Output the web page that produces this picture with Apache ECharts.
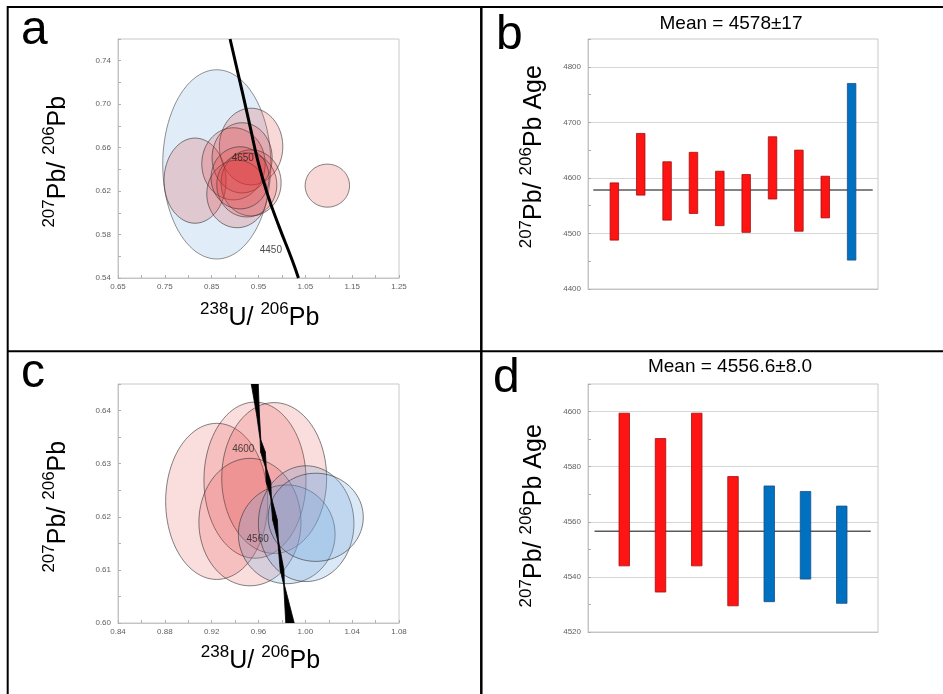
<!DOCTYPE html>
<html><head><meta charset="utf-8">
<script src="https://cdn.jsdelivr.net/npm/echarts@6/dist/echarts.min.js"></script>
<style>html,body{margin:0;padding:0;background:#fff}#c{width:943px;height:694px}</style>
</head><body><div id="c"></div>
<script>
// ---------------- DATA ----------------
// Panel a: error ellipses (centre x, centre y, half-axis x, half-axis y)
const aRedX  = [0.8145, 1.0970, 0.9342, 0.8966, 0.9150, 0.9342, 0.9043, 0.9250, 0.9107];
const aRedY  = [0.6296, 0.6250, 0.6610, 0.6451, 0.6506, 0.6276, 0.6174, 0.6257, 0.6322];
const aRedSx = [0.0662, 0.0474, 0.0677, 0.0677, 0.0641, 0.0641, 0.0647, 0.0641, 0.0620];
const aRedSy = [0.0392, 0.0198, 0.0353, 0.0332, 0.0323, 0.0304, 0.0311, 0.0295, 0.0286];
const aBlueX  = [0.8609];
const aBlueY  = [0.6446];
const aBlueSx = [0.1154];
const aBlueSy = [0.0871];
// Panel a: concordia curve
const concAX = [0.8893, 0.9160, 0.9321, 0.9481, 0.9684, 0.9940, 1.0218, 1.0353];
const concAY = [0.7600, 0.7102, 0.6794, 0.6488, 0.6181, 0.5873, 0.5566, 0.5400];
const aAgeText = ['4650', '4450'];
const aAgeX = [0.9165, 0.9763];
const aAgeY = [0.6502, 0.5652];
const aXLabels = ['0.65','0.75','0.85','0.95','1.05','1.15','1.25'];
const aYLabels = ['0.54','0.58','0.62','0.66','0.70','0.74'];

// Panel b: 207Pb/206Pb ages (low, high) per analysis
const bLow   = [4488, 4569, 4524, 4536, 4514, 4502, 4562, 4504, 4528, 4452];
const bHigh  = [4591, 4680, 4629, 4646, 4612, 4606, 4674, 4650, 4603, 4770];
const bBlue  = [0, 0, 0, 0, 0, 0, 0, 0, 0, 1];
const bMean  = 4578;
const bMeanSpan = [0.2, 10.8];
const bTitle = 'Mean = 4578±17';
const bYLabels = ['4400','4500','4600','4700','4800'];

// Panel c: error ellipses
const cRedX  = [0.9243, 0.9570, 0.9734, 0.9527];
const cRedY  = [0.6229, 0.6269, 0.6273, 0.6190];
const cRedSx = [0.0436, 0.0436, 0.0448, 0.0436];
const cRedSy = [0.0147, 0.0147, 0.0142, 0.0120];
const cBlueX  = [0.9841, 1.0007, 1.0089];
const cBlueY  = [0.6167, 0.6187, 0.6199];
const cBlueSx = [0.0413, 0.0408, 0.0406];
const cBlueSy = [0.0093, 0.0109, 0.0083];
// Panel c: concordia band (centre x, centre y, half-width in x)
const concCX = [0.9568, 0.9596, 0.9617, 0.9638, 0.9664, 0.9685, 0.9707, 0.9741, 0.9767, 0.9801, 0.9818, 0.9869];
const concCY = [0.6450, 0.6392, 0.6345, 0.6322, 0.6292, 0.6266, 0.6237, 0.6194, 0.6156, 0.6100, 0.6072, 0.6000];
const concCW = [0.0030, 0.0012, 0.0003, 0.0020, 0.0003, 0.0020, 0.0003, 0.0020, 0.0003, 0.0016, 0.0003, 0.0036];
const cAgeText = ['4600', '4560'];
const cAgeX = [0.9470, 0.9593];
const cAgeY = [0.6328, 0.6158];
const cXLabels = ['0.84','0.88','0.92','0.96','1.00','1.04','1.08'];
const cYLabels = ['0.600','0.610','0.620','0.630','0.640'];

// Panel d
const dLow   = [4544, 4534.5, 4544, 4529.5, 4531, 4539.2, 4530.4];
const dHigh  = [4599.4, 4590.2, 4599.4, 4576.4, 4573, 4571, 4565.7];
const dBlue  = [0, 0, 0, 0, 1, 1, 1];
const dMean  = 4556.6;
const dMeanSpan = [0.18, 7.8];
const dTitle = 'Mean = 4556.6±8.0';
const dYLabels = ['4520','4540','4560','4580','4600'];

// ---------------- CHART ----------------
const FONT = "'Liberation Sans', Arial, sans-serif";
const chart = echarts.init(document.getElementById('c'), null, {renderer: 'canvas'});

function ellipseSeries(xi, yi, X, Y, SX, SY, fill, stroke) {
  return {
    type: 'custom', xAxisIndex: xi, yAxisIndex: yi, clip: true, silent: true,
    encode: {x: 0, y: 1},
    data: X.map((x, i) => [x, Y[i], SX[i], SY[i]]),
    renderItem: function (params, api) {
      const cx = api.value(0), cy = api.value(1), rx = api.value(2), ry = api.value(3);
      const pts = [];
      for (let k = 0; k < 96; k++) {
        const t = k / 96 * Math.PI * 2;
        pts.push(api.coord([cx + rx * Math.cos(t), cy + ry * Math.sin(t)]));
      }
      return {type: 'polygon', shape: {points: pts}, style: {fill: fill, stroke: stroke, lineWidth: 1}};
    }
  };
}
function barSeries(xi, yi, LO, HI, BL, w) {
  return {
    type: 'custom', xAxisIndex: xi, yAxisIndex: yi, silent: true,
    encode: {x: 0, y: [1, 2]},
    data: LO.map((lo, i) => [i + 1, lo, HI[i], BL[i]]),
    renderItem: function (params, api) {
      const x = api.value(0), lo = api.value(1), hi = api.value(2), blue = api.value(3);
      const p1 = api.coord([x, hi]), p2 = api.coord([x, lo]);
      return {type: 'rect', shape: {x: p1[0] - w / 2, y: p1[1], width: w, height: p2[1] - p1[1]},
        style: {fill: blue ? '#0070c0' : '#ff1414', stroke: blue ? '#1b4f86' : '#a01010', lineWidth: 0.8}};
    }
  };
}
function meanSeries(xi, yi, mean, span) {
  return {type: 'line', xAxisIndex: xi, yAxisIndex: yi, silent: true, symbol: 'none',
    data: [[span[0], mean], [span[1], mean]], lineStyle: {color: '#5a5a5a', width: 1.5}, z: 1};
}
function ageLabels(xi, yi, T, X, Y) {
  return {type: 'scatter', xAxisIndex: xi, yAxisIndex: yi, silent: true, symbolSize: 1,
    itemStyle: {color: 'rgba(0,0,0,0)'}, z: 10,
    data: T.map((t, i) => ({name: t, value: [X[i], Y[i]]})),
    label: {show: true, position: 'inside', formatter: '{b}', fontSize: 10, color: '#222', fontFamily: FONT}};
}
function labelStyle(margin, fmt) {
  return {fontSize: 8, color: '#5f5f5f', fontFamily: FONT, margin: margin, formatter: fmt};
}
function valAxis(gi, min, max, interval, fmt, margin, opts) {
  return Object.assign({
    gridIndex: gi, type: 'value', min: min, max: max, interval: interval,
    axisLine: {show: true, lineStyle: {color: '#c4c4c4', width: 1}},
    axisTick: {show: true, inside: true, length: 3, lineStyle: {color: '#b0b0b0'}},
    axisLabel: labelStyle(margin, fmt),
    splitLine: {show: false}
  }, opts || {});
}
function hiddenX(gi, min, max) {
  return {gridIndex: gi, type: 'value', min: min, max: max,
    axisLine: {show: true, lineStyle: {color: '#c4c4c4'}}, axisTick: {show: false},
    axisLabel: {show: false}, splitLine: {show: false}};
}
const pick = (labels, dec) => v => labels.indexOf(v.toFixed(dec)) >= 0 ? v.toFixed(dec) : '';

const RICH = {
  m: {fontSize: 25, fontFamily: FONT, lineHeight: 34, fill: '#000'},
  s: {fontSize: 17, fontFamily: FONT, verticalAlign: 'top', fill: '#000'}
};
function richText(x, y, txt, rot) {
  return {type: 'text', x: x, y: y, rotation: rot || 0, silent: true,
    style: {text: txt, rich: RICH, align: 'center', verticalAlign: 'middle',
      textAlign: 'center', textVerticalAlign: 'middle', fill: '#000'}};
}
function plainText(x, y, txt, size, align) {
  return {type: 'text', x: x, y: y, silent: true,
    style: {text: txt, fontSize: size, fontFamily: FONT, fill: '#000',
      align: align, verticalAlign: 'middle', textAlign: align, textVerticalAlign: 'middle'}};
}
function hline(x1, y, x2, w) { return {type: 'line', silent: true, shape: {x1: x1, y1: y, x2: x2, y2: y}, style: {stroke: '#000', lineWidth: w}}; }
function vline(x, y1, y2, w) { return {type: 'line', silent: true, shape: {x1: x, y1: y1, x2: x, y2: y2}, style: {stroke: '#000', lineWidth: w}}; }

const gridStyle = {show: true, borderColor: '#c8c8c8', borderWidth: 1, backgroundColor: 'rgba(0,0,0,0)', containLabel: false};
const altSplit = {show: true, lineStyle: {color: ['#d6d6d6', 'rgba(0,0,0,0)'], width: 1}};

const option = {
  animation: false,
  backgroundColor: '#fff',
  grid: [
    Object.assign({left: 118, top: 39, width: 281, height: 239}, gridStyle),
    Object.assign({left: 588, top: 39, width: 290, height: 250}, gridStyle),
    Object.assign({left: 118, top: 384, width: 281, height: 239}, gridStyle),
    Object.assign({left: 588, top: 384, width: 290, height: 248}, gridStyle)
  ],
  xAxis: [
    valAxis(0, 0.65, 1.25, 0.05, pick(aXLabels, 2), 5),
    hiddenX(1, 0, bLow.length + 1),
    valAxis(2, 0.84, 1.08, 0.02, pick(cXLabels, 2), 5),
    hiddenX(3, 0, dLow.length + 1)
  ],
  yAxis: [
    valAxis(0, 0.54, 0.76, 0.02, pick(aYLabels, 2), 7),
    valAxis(1, 4400, 4850, 50, pick(bYLabels, 0), 7, {splitLine: altSplit}),
    valAxis(2, 0.60, 0.645, 0.005, v => cYLabels.indexOf(v.toFixed(3)) >= 0 ? v.toFixed(2) : '', 7),
    valAxis(3, 4520, 4610, 10, pick(dYLabels, 0), 7, {splitLine: altSplit})
  ],
  series: [
    ellipseSeries(0, 0, aBlueX, aBlueY, aBlueSx, aBlueSy, 'rgba(130,180,225,0.25)', 'rgba(60,60,60,0.55)'),
    ellipseSeries(0, 0, aRedX, aRedY, aRedSx, aRedSy, 'rgba(225,50,50,0.19)', 'rgba(50,50,50,0.6)'),
    {type: 'line', xAxisIndex: 0, yAxisIndex: 0, silent: true, symbol: 'none', smooth: true, z: 5,
      data: concAX.map((x, i) => [x, concAY[i]]), lineStyle: {color: '#000', width: 3}},
    ageLabels(0, 0, aAgeText, aAgeX, aAgeY),

    barSeries(1, 1, bLow, bHigh, bBlue, 8.5),
    meanSeries(1, 1, bMean, bMeanSpan),

    ellipseSeries(2, 2, cRedX, cRedY, cRedSx, cRedSy, 'rgba(225,55,55,0.17)', 'rgba(50,50,50,0.6)'),
    ellipseSeries(2, 2, cBlueX, cBlueY, cBlueSx, cBlueSy, 'rgba(110,165,220,0.25)', 'rgba(50,50,50,0.6)'),
    {type: 'custom', xAxisIndex: 2, yAxisIndex: 2, silent: true, clip: true, z: 5,
      encode: {x: 0, y: 1},
      data: concCX.slice(0, -1).map((x, i) => [x, concCY[i], concCW[i], concCX[i + 1], concCY[i + 1], concCW[i + 1]]),
      renderItem: function (params, api) {
        const x0 = api.value(0), y0 = api.value(1), w0 = api.value(2);
        const x1 = api.value(3), y1 = api.value(4), w1 = api.value(5);
        const pts = [api.coord([x0 - w0, y0]), api.coord([x0 + w0, y0]), api.coord([x1 + w1, y1]), api.coord([x1 - w1, y1])];
        return {type: 'polygon', shape: {points: pts}, style: {fill: '#000', stroke: '#000', lineWidth: 0.8}};
      }},
    ageLabels(2, 2, cAgeText, cAgeX, cAgeY),

    barSeries(3, 3, dLow, dHigh, dBlue, 10.5),
    meanSeries(3, 3, dMean, dMeanSpan)
  ],
  graphic: [
    // panel frame lines
    hline(7, 7, 943, 2), vline(7.7, 6, 694, 2), vline(481.3, 6, 694, 2.5), hline(7, 351.2, 943, 2),
    // panel letters
    plainText(21, 30.5, 'a', 48, 'left'),
    plainText(496, 35.5, 'b', 48, 'left'),
    plainText(21, 373.5, 'c', 48, 'left'),
    plainText(493, 379, 'd', 48, 'left'),
    // titles
    plainText(731, 23.4, bTitle, 19, 'center'),
    plainText(730, 366.7, dTitle, 19, 'center'),
    // axis titles
    richText(259.7, 318, '{s|238}{m|U/ }{s|206}{m|Pb}'),
    richText(260.5, 661.3, '{s|238}{m|U/ }{s|206}{m|Pb}'),
    richText(58, 161.7, '{s|207}{m|Pb/ }{s|206}{m|Pb}', Math.PI / 2),
    richText(58, 506.7, '{s|207}{m|Pb/ }{s|206}{m|Pb}', Math.PI / 2),
    richText(534.6, 156.7, '{s|207}{m|Pb/ }{s|206}{m|Pb Age}', Math.PI / 2),
    richText(534.6, 515.8, '{s|207}{m|Pb/ }{s|206}{m|Pb Age}', Math.PI / 2)
  ]
};
chart.setOption(option);
</script>
</body></html>
